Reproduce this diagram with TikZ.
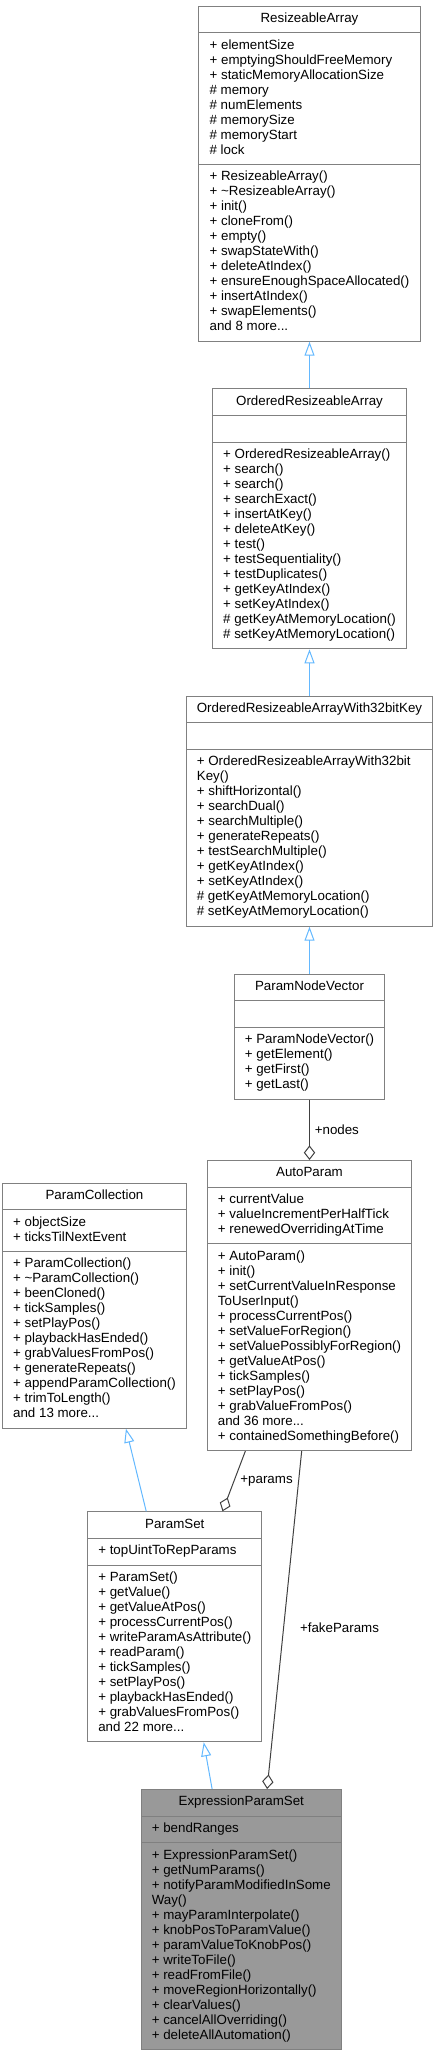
\documentclass[tikz,border=0pt]{standalone}
\usepackage{fontspec}
\setmainfont{Liberation Sans}
\usepackage{xcolor}
\usepackage{tikz}
\usetikzlibrary{positioning, calc, shapes.multipart, arrows.meta}
\definecolor{boxGray}{RGB}{128,128,128}
\definecolor{inheritBlue}{RGB}{99,184,255}
\definecolor{aggrGray}{RGB}{64,64,64}
\definecolor{focusFill}{RGB}{153,153,153}
\tikzset{
    classbox/.style={
        rectangle split,
        rectangle split parts=3,
        rectangle split part align={center,left,left},
        draw=boxGray,
        line width=0.75pt,
        fill=white,
        align=left,
        anchor=north,
        inner xsep=8pt,
        inner ysep=4pt,
        font=\fontsize{10}{11.25}\selectfont
    },
    inherit/.style={
        draw=inheritBlue,
        line width=0.75pt,
        -{Triangle[open,length=10.5pt,width=7.5pt]}
    },
    aggr/.style={
        draw=aggrGray,
        line width=0.75pt,
        -{Diamond[open,length=11pt,width=8.5pt]}
    },
    rolelabel/.style={
        font=\fontsize{10}{11.25}\selectfont,
        inner sep=0pt
    }
}

\begin{document}
\begin{tikzpicture}[x=0.75pt, y=-0.75pt]
    \useasboundingbox (0,0) rectangle (436,2052);

    % 1. Base classes in the right column
    \node[classbox, minimum width=161.5pt] (ra) at (309.5,5.7)
        {\strut ResizeableArray
         \nodepart{two}\strut + elementSize\\
         + emptyingShouldFreeMemory\\
         + staticMemoryAllocationSize\\
         \# memory\\
         \# numElements\\
         \# memorySize\\
         \# memoryStart\\
         \# lock\strut
         \nodepart{three}\strut + ResizeableArray()\\
         + \textasciitilde ResizeableArray()\\
         + init()\\
         + cloneFrom()\\
         + empty()\\
         + swapStateWith()\\
         + deleteAtIndex()\\
         + ensureEnoughSpaceAllocated()\\
         + insertAtIndex()\\
         + swapElements()\\
         and 8 more...\strut};

    \node[classbox, minimum width=143.25pt] (ora) at (309.5,388.3)
        {\strut OrderedResizeableArray
         \nodepart{two}\strut
         \nodepart{three}\strut + OrderedResizeableArray()\\
         + search()\\
         + search()\\
         + searchExact()\\
         + insertAtKey()\\
         + deleteAtKey()\\
         + test()\\
         + testSequentiality()\\
         + testDuplicates()\\
         + getKeyAtIndex()\\
         + setKeyAtIndex()\\
         \# getKeyAtMemoryLocation()\\
         \# setKeyAtMemoryLocation()\strut};

    \node[classbox, minimum width=181.5pt] (ora32) at (309.5,695.7)
        {\strut OrderedResizeableArrayWith32bitKey
         \nodepart{two}\strut
         \nodepart{three}\strut + OrderedResizeableArrayWith32bit\\
         Key()\\
         + shiftHorizontal()\\
         + searchDual()\\
         + searchMultiple()\\
         + generateRepeats()\\
         + testSearchMultiple()\\
         + getKeyAtIndex()\\
         + setKeyAtIndex()\\
         \# getKeyAtMemoryLocation()\\
         \# setKeyAtMemoryLocation()\strut};

    \node[classbox, minimum width=111.4pt] (pnv) at (309.5,973.7)
        {\strut ParamNodeVector
         \nodepart{two}\strut
         \nodepart{three}\strut + ParamNodeVector()\\
         + getElement()\\
         + getFirst()\\
         + getLast()\strut};

    \node[classbox, minimum width=151.4pt] (ap) at (309.5,1160)
        {\strut AutoParam
         \nodepart{two}\strut + currentValue\\
         + valueIncrementPerHalfTick\\
         + renewedOverridingAtTime\strut
         \nodepart{three}\strut + AutoParam()\\
         + init()\\
         + setCurrentValueInResponse\\
         ToUserInput()\\
         + processCurrentPos()\\
         + setValueForRegion()\\
         + setValuePossiblyForRegion()\\
         + getValueAtPos()\\
         + tickSamples()\\
         + setPlayPos()\\
         + grabValueFromPos()\\
         and 36 more...\\
         + containedSomethingBefore()\strut};

    % 2. Left column and the class in focus
    \node[classbox, minimum width=134.7pt] (pc) at (94.5,1182.7)
        {\strut ParamCollection
         \nodepart{two}\strut + objectSize\\
         + ticksTilNextEvent\strut
         \nodepart{three}\strut + ParamCollection()\\
         + \textasciitilde ParamCollection()\\
         + beenCloned()\\
         + tickSamples()\\
         + setPlayPos()\\
         + playbackHasEnded()\\
         + grabValuesFromPos()\\
         + generateRepeats()\\
         + appendParamCollection()\\
         + trimToLength()\\
         and 13 more...\strut};

    \node[classbox, minimum width=129.2pt] (ps) at (174.8,1511.3)
        {\strut ParamSet
         \nodepart{two}\strut + topUintToRepParams\strut
         \nodepart{three}\strut + ParamSet()\\
         + getValue()\\
         + getValueAtPos()\\
         + processCurrentPos()\\
         + writeParamAsAttribute()\\
         + readParam()\\
         + tickSamples()\\
         + setPlayPos()\\
         + playbackHasEnded()\\
         + grabValuesFromPos()\\
         and 22 more...\strut};

    \node[classbox, fill=focusFill, minimum width=148pt] (eps) at (241.3,1789)
        {\strut ExpressionParamSet
         \nodepart{two}\strut + bendRanges\strut
         \nodepart{three}\strut + ExpressionParamSet()\\
         + getNumParams()\\
         + notifyParamModifiedInSome\\
         Way()\\
         + mayParamInterpolate()\\
         + knobPosToParamValue()\\
         + paramValueToKnobPos()\\
         + writeToFile()\\
         + readFromFile()\\
         + moveRegionHorizontally()\\
         + clearValues()\\
         + cancelAllOverriding()\\
         + deleteAllAutomation()\strut};

    % 3. Inheritance arrows
    \draw[inherit] (ora.north) -- (ra.south);
    \draw[inherit] (ora32.north) -- (ora.south);
    \draw[inherit] (pnv.north) -- (ora32.south);
    \draw[inherit] ($(ps.north west)!0.337!(ps.north east)$) -- ($(pc.south west)!0.67!(pc.south east)$);
    \draw[inherit] ($(eps.north west)!0.355!(eps.north east)$) -- ($(ps.south west)!0.665!(ps.south east)$);

    % 4. Member links
    \draw[aggr] (pnv.south) -- node[rolelabel, right=3.6pt] {+nodes} (ap.north);
    \draw[aggr] ($(ap.south west)!0.188!(ap.south east)$) -- node[rolelabel, right=4.5pt] {+params} ($(ps.north west)!0.772!(ps.north east)$);
    \draw[aggr] ($(ap.south west)!0.462!(ap.south east)$) -- node[rolelabel, pos=0.524, right=12pt] {+fakeParams} ($(eps.north west)!0.628!(eps.north east)$);
\end{tikzpicture}
\end{document}
